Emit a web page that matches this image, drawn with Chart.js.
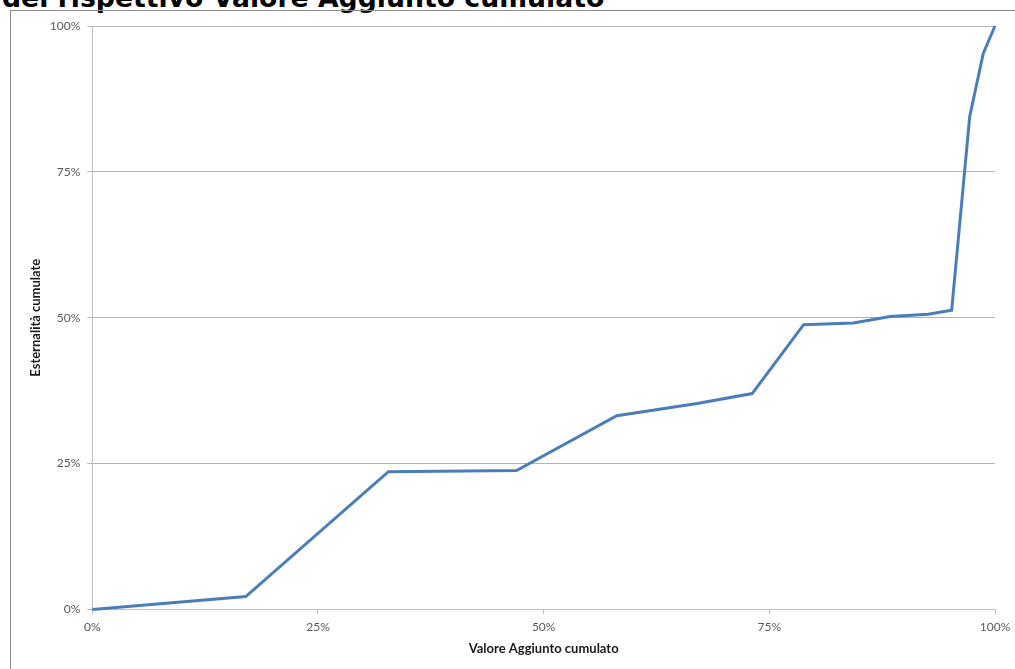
<!DOCTYPE html>
<html lang="it">
<head>
<meta charset="utf-8">
<script src="https://cdn.jsdelivr.net/npm/chart.js@4/dist/chart.umd.min.js"></script>
<style>
  html, body { margin: 0; padding: 0; background: #fff; overflow: hidden; }
  body { width: 1015px; height: 669px; position: relative; }
  #titolo {
    position: absolute; left: 2px; top: -16px;
    font: bold 26.7px "DejaVu Sans", Verdana, sans-serif;
    line-height: 27px; color: #000; white-space: nowrap;
  }
  #cornice {
    position: absolute; left: 10px; top: 10px; width: 1100px; height: 700px;
    border: 1px solid #8c8c8c;
  }
  #box { position: absolute; left: 0; top: 0; width: 1015px; height: 669px; }
</style>
</head>
<body>
<div id="titolo">dei rispettivo Valore Aggiunto cumulato</div>
<div id="cornice"></div>
<div id="box"><canvas id="curva"></canvas></div>

<script>
// Curva cumulata: valore aggiunto (x) vs esternalità (y), in percentuale
const valoreAggiunto = [0, 17.0, 32.8, 47.0, 58.1, 67.0, 73.1, 78.8, 84.3, 88.4, 92.6, 95.2, 97.2, 98.7, 100];
const esternalita    = [0, 2.2, 23.6, 23.8, 33.2, 35.3, 37.0, 48.8, 49.1, 50.2, 50.6, 51.3, 84.5, 95.3, 100];
const tickPercent = [0, 25, 50, 75, 100];

const punti = valoreAggiunto.map((x, i) => ({ x: x, y: esternalita[i] }));

const tickFont = { family: 'Lato, "Open Sans", sans-serif', size: 12 };
const titleFont = { family: 'Lato, "Open Sans", sans-serif', size: 13, weight: 'bold' };

new Chart(document.getElementById('curva').getContext('2d'), {
  type: 'line',
  data: {
    datasets: [{
      data: punti,
      borderColor: '#4a7ebb',
      borderWidth: 3,
      pointRadius: 0,
      tension: 0,
      fill: false,
      clip: 6
    }]
  },
  options: {
    responsive: true,
    maintainAspectRatio: false,
    animation: false,
    layout: { padding: { left: 28.2, top: 26, right: 20, bottom: 12.2 } },
    plugins: { legend: { display: false }, tooltip: { enabled: false } },
    scales: {
      x: {
        type: 'linear',
        min: 0, max: 100,
        // etichette laterali dentro il padding del layout
        afterFit: (s) => { s.height = 47.4; s.paddingLeft = 0; s.paddingRight = 0; },
        afterBuildTicks: (s) => { s.ticks = tickPercent.map(v => ({ value: v })); },
        ticks: { color: '#595959', font: tickFont, padding: 6, callback: v => v + '%' },
        grid: { drawOnChartArea: false, drawTicks: true, tickLength: 5, color: '#bfbfbf' },
        border: { display: true, color: '#bfbfbf' },
        title: { display: true, text: 'Valore Aggiunto cumulato', color: '#1a1a1a', font: titleFont, padding: 0 }
      },
      y: {
        min: 0, max: 100,
        afterFit: (s) => { s.width = 64.1; s.paddingTop = 0; s.paddingBottom = 0; },
        afterBuildTicks: (s) => { s.ticks = tickPercent.map(v => ({ value: v })); },
        ticks: { color: '#595959', font: tickFont, padding: 7, callback: v => v + '%' },
        grid: { color: '#b3b3b3', tickLength: 5 },
        border: { display: true, color: '#bfbfbf' },
        title: { display: true, text: 'Esternalità cumulate', color: '#1a1a1a', font: titleFont, padding: 0 }
      }
    }
  }
});
</script>
</body>
</html>
